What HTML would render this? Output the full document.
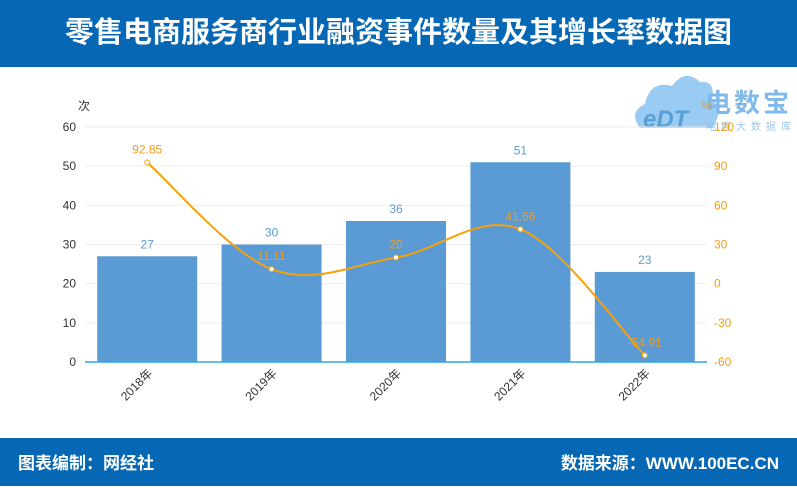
<!DOCTYPE html>
<html><head><meta charset="utf-8"><style>
body{margin:0;width:797px;height:486px;overflow:hidden;background:#fff;font-family:"Liberation Sans","Noto Sans CJK SC",sans-serif}
#hdr{position:absolute;left:0;top:0;width:797px;height:67px;background:#0668b5;color:#fff;font-size:29px;font-weight:bold;text-align:center;line-height:67px}
#ftr{position:absolute;left:0;top:438px;width:797px;height:48px;background:#0668b5;color:#fff;font-size:17px;font-weight:bold;line-height:52px}
</style></head><body>
<div id="hdr">零售电商服务商行业融资事件数量及其增长率数据图</div>
<svg id="c" width="797" height="486" style="position:absolute;left:0;top:0">
<g>
<path d="M640 128 Q628 112 645 104 Q650 80 672 86 Q685 68 700 82 Q716 80 712 100 Q725 110 712 128 Z" fill="#8ec5f2" opacity="0.9"/>
<text x="643" y="127" font-size="24" fill="#5aa0d8" font-style="italic" font-weight="bold">eDT</text>
<text x="705" y="112" font-size="26" fill="#7fb8ea" font-weight="bold" letter-spacing="3">电数宝</text>
<text x="706" y="130" font-size="10" fill="#9cc6ec" letter-spacing="5">电商大数据库</text>
</g>
</svg>
<div id="ftr"><span style="position:absolute;left:18px">图表编制：网经社</span><span style="position:absolute;right:18px">数据来源：WWW.100EC.CN</span></div>
<script>
const categories=["2018年","2019年","2020年","2021年","2022年"];
const counts=[27,30,36,51,23];
const growth=[92.85,11.11,20,41.66,-54.91];
const growthLabels=["92.85","11.11","20","41.66","-54.91"];
const leftTicks=[0,10,20,30,40,50,60];
const rightTicks=[-60,-30,0,30,60,90,120];
const svg=document.getElementById('c');const NS='http://www.w3.org/2000/svg';
const X0=85,X1=707,Y0=362,Y1=127;
const band=(X1-X0)/categories.length;
const xc=i=>X0+band*(i+0.5);
const yL=v=>Y0-(v-0)/60*(Y0-Y1);
const yR=v=>Y0-(v+60)/180*(Y0-Y1);
function el(t,a,txt){const e=document.createElementNS(NS,t);for(const k in a)e.setAttribute(k,a[k]);if(txt!=null)e.textContent=txt;svg.appendChild(e);return e;}
leftTicks.forEach((v,i)=>{
 if(v>0){const g=el('line',{x1:X0,x2:X1,y1:yL(v),y2:yL(v),stroke:'#eee'});}
 const t=el('text',{x:76,y:yL(v)+4,'text-anchor':'end','font-size':12,fill:'#333'},v);
 
});
rightTicks.forEach(v=>{const t=el('text',{x:714,y:yR(v)+4,'font-size':12,fill:'#f39c12'},v);
 });
let u=el('text',{x:78,y:110,'font-size':12,fill:'#333'},'次');
u=el('text',{x:702,y:110,'font-size':12,fill:'#f39c12'},'%');
counts.forEach((v,i)=>{
 const bw=100;const b=el('rect',{x:xc(i)-bw/2,y:yL(v),width:bw,height:Y0-yL(v),fill:'#5b9bd5'});
 
 const t=el('text',{x:xc(i),y:yL(v)-8,'text-anchor':'middle','font-size':12,fill:'#5b9bd5'},v);
 
 const c=el('text',{transform:`translate(${xc(i)+6},${Y0+12}) rotate(-45)`,'text-anchor':'end','font-size':12,fill:'#333'},categories[i]);
 
});
const ax=el('line',{x1:X0,x2:X1,y1:Y0,y2:Y0,stroke:'#2aa8e0','stroke-width':1.5});
const pts=growth.map((v,i)=>[xc(i),yR(v)]);
let d='M'+pts[0][0]+' '+pts[0][1];
for(let i=0;i<pts.length-1;i++){const p0=pts[Math.max(0,i-1)],p1=pts[i],p2=pts[i+1],p3=pts[Math.min(pts.length-1,i+2)];const s=0.17;
 d+=` C${p1[0]+(p2[0]-p0[0])*s} ${p1[1]+(p2[1]-p0[1])*s} ${p2[0]-(p3[0]-p1[0])*s} ${p2[1]-(p3[1]-p1[1])*s} ${p2[0]} ${p2[1]}`;}
const ln=el('path',{d:d,fill:'none',stroke:'#f7a10a','stroke-width':2});
pts.forEach((p,i)=>{const c=el('circle',{cx:p[0],cy:p[1],r:2.5,fill:'#fff',stroke:'#f7a10a','stroke-width':1});
 
 const t=el('text',{x:p[0],y:p[1]-9,'text-anchor':'middle','font-size':12,fill:'#f39c12'},growthLabels[i]);
 });
</script>
</body></html>
